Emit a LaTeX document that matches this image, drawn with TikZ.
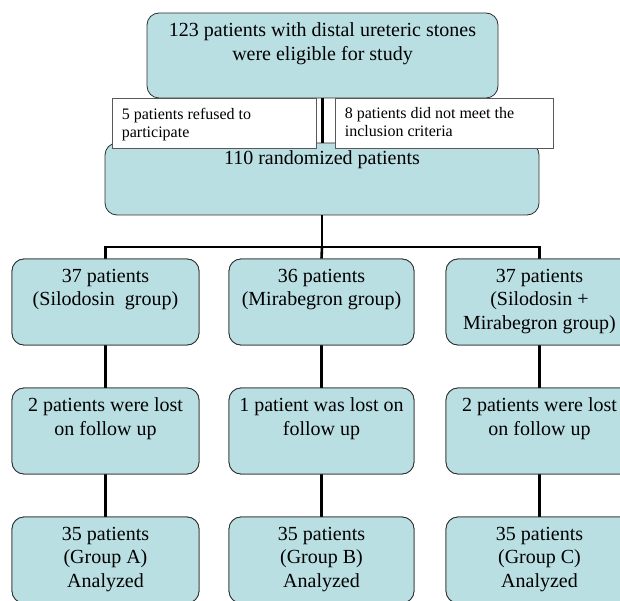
\documentclass[tikz,border=0pt]{standalone}
\usepackage{fontspec}
\setmainfont{Liberation Serif}
\definecolor{boxfill}{RGB}{185,223,227}
\definecolor{boxline}{RGB}{45,45,45}
\newcommand{\bigtxt}{\fontsize{20}{23.5}\selectfont}
\newcommand{\smalltxt}{\fontsize{16}{18}\selectfont}

\begin{document}
\begin{tikzpicture}[x=1pt,y=-1pt,
  stage/.style={draw=boxline,fill=boxfill,line width=0.8pt,rounded corners=12pt,inner sep=0pt},
  excl/.style={draw=gray!70!black,fill=white,line width=0.7pt,inner sep=0pt,minimum height=50pt},
  bigtext/.style={font=\bigtxt,align=center,inner sep=0pt,anchor=north},
  smalltext/.style={font=\smalltxt,align=left,inner sep=0pt,anchor=north west},
  conn/.style={line width=2.6pt,black}]
  \clip (0,0) rectangle (620,601);
  \node[stage,minimum width=351pt,minimum height=85pt] (elig) at (322.5,55.5) {};
  \node[stage,minimum width=434pt,minimum height=72pt] (rand) at (322,179) {};
  \draw[conn] (elig.south) -- (elig.south |- rand.north);
  \node[excl,minimum width=204pt] (refused) at (214,123) {};
  \node[excl,minimum width=218pt] (criteria) at (444,123) {};

  \node[stage,minimum width=187pt,minimum height=86pt] (silo) at (105.5,302) {};
  \node[stage,minimum width=185pt,minimum height=86pt] (mira) at (321.5,302) {};
  \node[stage,minimum width=187pt,minimum height=86pt] (comb) at (539.5,302) {};
  \node[stage,minimum width=187pt,minimum height=86pt] (lostA) at (105.5,431) {};
  \node[stage,minimum width=185pt,minimum height=86pt] (lostB) at (321.5,431) {};
  \node[stage,minimum width=187pt,minimum height=86pt] (lostC) at (539.5,431) {};
  \node[stage,minimum width=187pt,minimum height=86pt] (grpA) at (105.5,560) {};
  \node[stage,minimum width=185pt,minimum height=86pt] (grpB) at (321.5,560) {};
  \node[stage,minimum width=187pt,minimum height=86pt] (grpC) at (539.5,560) {};

  \coordinate (split) at (322,247);
  \draw[conn] (rand.south) -- (split);
  \draw[conn] (split) -| (silo.north);
  \draw[conn] (split) -| (comb.north);
  \draw[conn] (split) -- (mira.north);
  \draw[conn] (silo) -- (lostA) -- (grpA);
  \draw[conn] (mira) -- (lostB) -- (grpB);
  \draw[conn] (comb) -- (lostC) -- (grpC);
  \node[stage,minimum width=187pt,minimum height=86pt] at (silo) {};
  \node[stage,minimum width=185pt,minimum height=86pt] at (mira) {};
  \node[stage,minimum width=187pt,minimum height=86pt] at (comb) {};
  \node[stage,minimum width=187pt,minimum height=86pt] at (lostA) {};
  \node[stage,minimum width=185pt,minimum height=86pt] at (lostB) {};
  \node[stage,minimum width=187pt,minimum height=86pt] at (lostC) {};
  \node[stage,minimum width=187pt,minimum height=86pt] at (grpA) {};
  \node[stage,minimum width=185pt,minimum height=86pt] at (grpB) {};
  \node[stage,minimum width=187pt,minimum height=86pt] at (grpC) {};

  \node[bigtext] (eligtxt) at ([yshift=-10pt]elig.north) {123 patients with distal ureteric stones\\were eligible for study};
  \node[bigtext] (randtxt) at ([yshift=-8pt]rand.north) {110 randomized patients};
  \node[smalltext] (refusedtxt) at ([xshift=10pt,yshift=-10pt]refused.north west) {5 patients refused to\\participate};
  \node[smalltext] (criteriatxt) at ([xshift=10pt,yshift=-10pt]criteria.north west) {8 patients did not meet the\\inclusion criteria};
  \node[bigtext] (silotxt) at ([yshift=-10pt]silo.north) {37 patients\\(Silodosin~ group)};
  \node[bigtext] (miratxt) at ([yshift=-10pt]mira.north) {36 patients\\(Mirabegron group)};
  \node[bigtext] (combtxt) at ([yshift=-10pt]comb.north) {37 patients\\(Silodosin +\\Mirabegron group)};
  \node[bigtext] (lostAtxt) at ([yshift=-10pt]lostA.north) {2 patients were lost\\on follow up};
  \node[bigtext] (lostBtxt) at ([yshift=-10pt]lostB.north) {1 patient was lost on\\follow up};
  \node[bigtext] (lostCtxt) at ([yshift=-10pt]lostC.north) {2 patients were lost\\on follow up};
  \node[bigtext] (grpAtxt) at ([yshift=-10pt]grpA.north) {35 patients\\(Group A)\\Analyzed};
  \node[bigtext] (grpBtxt) at ([yshift=-10pt]grpB.north) {35 patients\\(Group B)\\Analyzed};
  \node[bigtext] (grpCtxt) at ([yshift=-10pt]grpC.north) {35 patients\\(Group C)\\Analyzed};
\end{tikzpicture}
\end{document}
